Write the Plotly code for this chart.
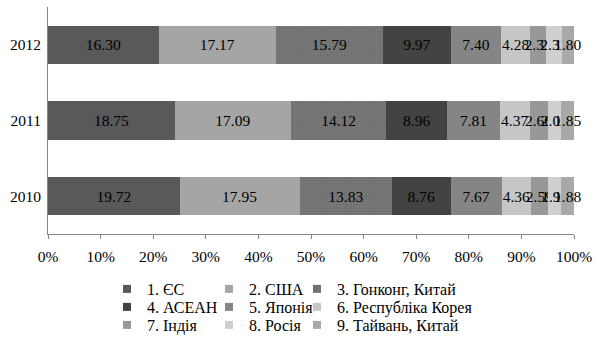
import plotly.graph_objects as go

years = ["2010", "2011", "2012"]
series_names = ["1. ЄС", "2. США", "3. Гонконг, Китай", "4. АСЕАН", "5. Японія",
                "6. Республіка Корея", "7. Індія", "8. Росія", "9. Тайвань, Китай"]
s1 = [19.72, 18.75, 16.30]
s2 = [17.95, 17.09, 17.17]
s3 = [13.83, 14.12, 15.79]
s4 = [8.76, 8.96, 9.97]
s5 = [7.67, 7.81, 7.40]
s6 = [4.36, 4.37, 4.28]
s7 = [2.59, 2.66, 2.32]
s8 = [1.98, 2.05, 2.31]
s9 = [1.88, 1.85, 1.80]
series_values = [s1, s2, s3, s4, s5, s6, s7, s8, s9]
tick_vals = [0, 10, 20, 30, 40, 50, 60, 70, 80, 90, 100]
tick_text = ["0%", "10%", "20%", "30%", "40%", "50%", "60%", "70%", "80%", "90%", "100%"]

colors = ["#595959", "#a5a5a5", "#727272", "#434343", "#858585",
          "#c6c6c6", "#989898", "#cfcfcf", "#a9a9a9"]

FONT = "Liberation Serif"
FS = 15.5
LFS = 16
W, H = 605, 340
ml, mr, mt, mb = 48, 31, 7, 106
pw = W - ml - mr
ph = H - mt - mb

fig = go.Figure()
for i, (name, vals) in enumerate(zip(series_names, series_values)):
    marker = dict(color=colors[i], line=dict(width=0))
    if i == 2:
        marker["pattern"] = dict(shape=".", fgcolor="#868686", size=3,
                                 solidity=0.25, fillmode="overlay")
    fig.add_trace(go.Bar(
        y=years, x=vals, orientation="h", name=name,
        marker=marker,
        text=[f"{v:.2f}" for v in vals],
        textposition="inside", insidetextanchor="middle",
        constraintext="none", textangle=0,
        insidetextfont=dict(color="#000000", size=FS, family=FONT),
        cliponaxis=False,
        showlegend=False,
    ))

# legend entries: 3 columns x 3 rows, each in its own legend box
col_text_x = [147, 249, 337]
row_center_y = [289, 307, 325]
for i, name in enumerate(series_names):
    r, c = divmod(i, 3)
    key = "legend" if i == 0 else f"legend{i+1}"
    fig.add_trace(go.Scatter(
        x=[None], y=[None], mode="markers", name=name,
        marker=dict(symbol="square", size=8, color=colors[i]),
        legend=key, showlegend=True,
    ))
    lx = (col_text_x[c] - 40 - ml) / pw
    ly = (mt + ph - (row_center_y[r] - 17)) / ph
    fig.update_layout(**{key: dict(
        x=lx, y=ly, xanchor="left", yanchor="top",
        font=dict(family=FONT, size=LFS, color="#000000"),
        bgcolor="rgba(0,0,0,0)", borderwidth=0, itemwidth=30,
        itemsizing="trace",
    )})

fig.update_layout(
    width=W, height=H,
    margin=dict(l=ml, r=mr, t=mt, b=mb, pad=0, autoexpand=False),
    barmode="stack", barnorm="percent", bargap=0.49,
    plot_bgcolor="white", paper_bgcolor="white",
    font=dict(family=FONT, size=FS, color="#000000"),
    xaxis=dict(range=[0, 100], tickvals=tick_vals, ticktext=tick_text,
               showgrid=False, zeroline=False, showline=True,
               linecolor="#868686", linewidth=1, ticks="outside",
               ticklen=4, tickcolor="#868686", ticklabelstandoff=4,
               fixedrange=True),
    yaxis=dict(showgrid=False, zeroline=False, showline=True,
               linecolor="#868686", linewidth=1, ticks="", ticklen=0,
               ticklabelstandoff=3, fixedrange=True),
)

fig.write_html("out.html", config={"displayModeBar": False})
